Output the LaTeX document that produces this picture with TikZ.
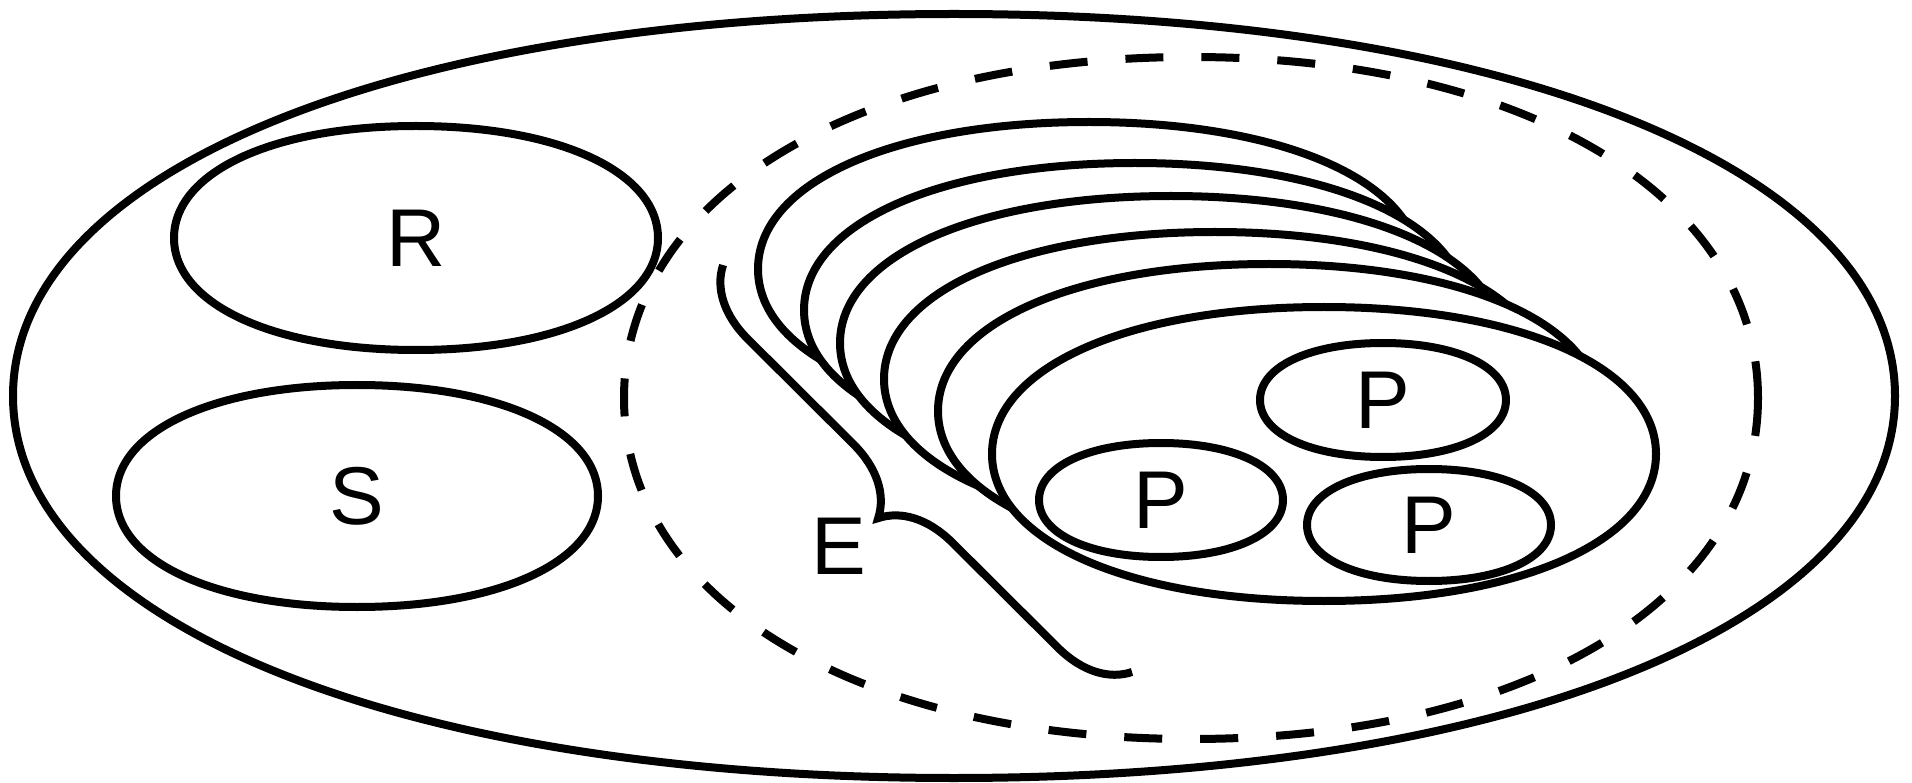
\documentclass[tikz,border=0pt]{standalone}
\usepackage{fontspec}
\setmainfont{Liberation Sans}
\usetikzlibrary{decorations.pathreplacing}

% fuller ellipse: #1 options, #2 centre, #3 x radius, #4 y radius
\newcommand{\setshape}[4][]{%
  \draw[#1, shift={#2}] (#3,0)
    .. controls (#3,\kf*#4) and (\kf*#3,#4) .. (0,#4)
    .. controls (-\kf*#3,#4) and (-#3,\kf*#4) .. (-#3,0)
    .. controls (-#3,-\kf*#4) and (-\kf*#3,-#4) .. (0,-#4)
    .. controls (\kf*#3,-#4) and (#3,-\kf*#4) .. cycle;}
\newcommand{\kf}{0.59}

\begin{document}
\begin{tikzpicture}[x=1pt, y=-1pt, line width=8pt,
      lbl/.style={inner sep=0pt, font=\fontsize{82}{90}\selectfont},
      chain/.style={fill=white},
      dset/.style={dash pattern=on 38pt off 38pt},
      brc/.style={draw, decorate, decoration={brace, amplitude=70pt}}
    ]
      \useasboundingbox (0,0) rectangle (1912,783);
      \setshape{(954,396)}{941}{382}
      \setshape{(416,238)}{242}{112}
      \setshape{(357,496)}{241}{111}
      \setshape[dset]{(1191,398)}{567}{341}
      % nested chain
      \setshape[chain]{(1089,269)}{331}{147}
      \setshape[chain]{(1135,310)}{331}{147}
      \setshape[chain]{(1171,343)}{331}{147}
      \setshape[chain]{(1215,379)}{331}{147}
      \setshape[chain]{(1269,411)}{331}{147}
      \setshape[chain]{(1324,454)}{332}{147}
      \setshape{(1383,400)}{123}{57}
      \setshape{(1161,500)}{122}{57}
      \setshape{(1429,525)}{122}{56}
      \node[lbl] (R) at (416,238) {R};
      \node[lbl] (S) at (357,496) {S};
      \node[lbl] (P1) at (1383,400) {P};
      \node[lbl] (P2) at (1161,500) {P};
      \node[lbl] (P3) at (1429,525) {P};
      \node[lbl] (E) at (839,546) {E};
      \coordinate (btop) at (723,265);
      \coordinate (bbot) at (1132,672);
      \draw[brc] (bbot) -- (btop);
    \end{tikzpicture}
\end{document}
